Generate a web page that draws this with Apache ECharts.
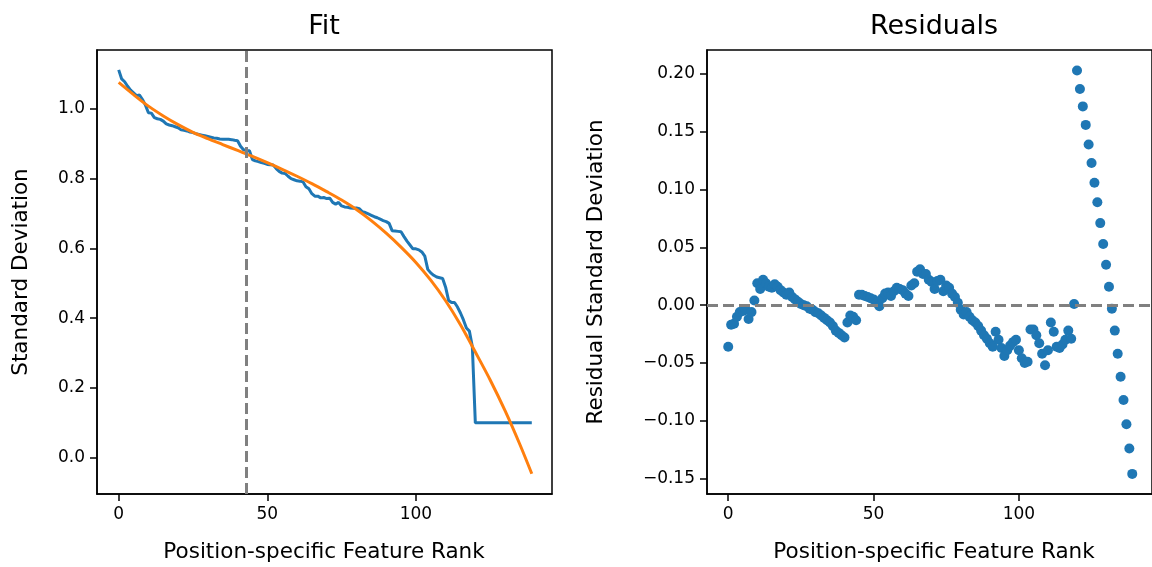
<!DOCTYPE html>
<html>
<head>
<meta charset="utf-8">
<script src="https://cdn.jsdelivr.net/npm/echarts@6/dist/echarts.min.js"></script>
<style>
  html, body { margin: 0; padding: 0; background: #fff; }
  #main { width: 1152px; height: 567px; }
</style>
</head>
<body>
<div id="main"></div>
<script>
// feature rank -> observed standard deviation (blue line)
var observed = [
  1.112, 1.086, 1.078, 1.065, 1.054, 1.046, 1.038, 1.040, 1.027, 1.011,
  0.989, 0.988, 0.975, 0.972, 0.970, 0.965, 0.957, 0.954, 0.952, 0.949,
  0.946, 0.940, 0.939, 0.937, 0.934, 0.932, 0.929, 0.927, 0.925, 0.923,
  0.921, 0.919, 0.917, 0.916, 0.914, 0.913, 0.913, 0.913, 0.912, 0.910,
  0.909, 0.893, 0.883, 0.881, 0.880, 0.855, 0.851, 0.849, 0.846, 0.844,
  0.841, 0.840, 0.839, 0.829, 0.821, 0.816, 0.815, 0.807, 0.800, 0.797,
  0.794, 0.793, 0.791, 0.777, 0.771, 0.757, 0.750, 0.750, 0.745, 0.746,
  0.743, 0.744, 0.732, 0.727, 0.732, 0.722, 0.719, 0.718, 0.716, 0.715,
  0.716, 0.714, 0.705, 0.703, 0.699, 0.695, 0.691, 0.688, 0.684, 0.680,
  0.677, 0.672, 0.651, 0.650, 0.649, 0.648, 0.634, 0.621, 0.610, 0.599,
  0.599, 0.596, 0.590, 0.578, 0.540, 0.530, 0.523, 0.518, 0.516, 0.514,
  0.489, 0.451, 0.445, 0.445, 0.432, 0.415, 0.395, 0.372, 0.363, 0.318,
  0.100, 0.100, 0.100, 0.100, 0.100, 0.100, 0.100, 0.100, 0.100, 0.100,
  0.100, 0.100, 0.100, 0.100, 0.100, 0.100, 0.100, 0.100, 0.100, 0.100
];

// fitted curve, sampled (orange line)
var fitRank = [0, 5, 10, 15, 20, 25, 30, 35, 40, 45, 50, 55, 60, 65, 70,
  75, 80, 85, 90, 95, 100, 105, 110, 115, 120, 125, 130, 135, 139];
var fitValue = [1.076, 1.041, 1.008, 0.980, 0.955, 0.933, 0.915, 0.898, 0.881,
  0.864, 0.846, 0.827, 0.807, 0.786, 0.763, 0.739, 0.712, 0.680, 0.644, 0.604,
  0.560, 0.509, 0.450, 0.381, 0.303, 0.223, 0.135, 0.038, -0.046];

// residual standard deviation per rank (scatter)
var residual = [
  -0.036, -0.017, -0.016, -0.010, -0.006, -0.005, -0.004, -0.012, -0.006, 0.004,
  0.019, 0.014, 0.022, 0.019, 0.016, 0.015, 0.018, 0.016, 0.013, 0.011,
  0.009, 0.011, 0.007, 0.005, 0.003, 0.001, 0.000, -0.001, -0.003, -0.004,
  -0.006, -0.007, -0.009, -0.011, -0.013, -0.015, -0.018, -0.022, -0.024, -0.026,
  -0.028, -0.015, -0.009, -0.010, -0.013, 0.009, 0.009, 0.008, 0.007, 0.006,
  0.005, 0.002, -0.001, 0.006, 0.010, 0.011, 0.008, 0.012, 0.015, 0.014,
  0.013, 0.010, 0.008, 0.017, 0.019, 0.029, 0.031, 0.027, 0.027, 0.022,
  0.020, 0.014, 0.021, 0.022, 0.012, 0.017, 0.015, 0.010, 0.007, 0.002,
  -0.004, -0.008, -0.006, -0.010, -0.013, -0.015, -0.018, -0.022, -0.026, -0.029,
  -0.033, -0.036, -0.023, -0.030, -0.037, -0.044, -0.039, -0.035, -0.032, -0.030,
  -0.039, -0.046, -0.050, -0.049, -0.021, -0.021, -0.026, -0.033, -0.042, -0.052,
  -0.039, -0.015, -0.023, -0.036, -0.037, -0.034, -0.030, -0.022, -0.029, 0.001,
  0.203, 0.187, 0.172, 0.156, 0.139, 0.123, 0.106, 0.089, 0.071, 0.053,
  0.035, 0.016, -0.003, -0.022, -0.042, -0.062, -0.082, -0.103, -0.124, -0.146
];

var cutoffRank = 43;
var xTicks = [0, 50, 100];
var fitTicks = [0, 0.2, 0.4, 0.6, 0.8, 1.0];
var resTicks = [-0.15, -0.10, -0.05, 0, 0.05, 0.10, 0.15, 0.20];

var FONT = '"DejaVu Sans", sans-serif';
var tickFont = 17;
var labelFont = 21.5;
var titleFont = 27;

function fmtMinus(s) { return s.replace('-', '\u2212'); }

var axisLine = { show: true, onZero: false, lineStyle: { color: '#000', width: 1.5 } };

function xAxisCfg(idx) {
  return {
    type: 'value', gridIndex: idx, min: -7.3, max: 145.8,
    axisLine: axisLine,
    splitLine: { show: false },
    axisTick: { show: true, length: 7, lineStyle: { color: '#000', width: 1.5 }, customValues: xTicks },
    axisLabel: { color: '#000', fontSize: tickFont, fontFamily: FONT, margin: 12, customValues: xTicks,
      formatter: function (v) { return String(v); } }
  };
}

function yAxisCfg(idx, min, max, ticks, digits) {
  return {
    type: 'value', gridIndex: idx, min: min, max: max,
    axisLine: axisLine,
    splitLine: { show: false },
    axisTick: { show: true, length: 7, lineStyle: { color: '#000', width: 1.5 }, customValues: ticks },
    axisLabel: { color: '#000', fontSize: tickFont, fontFamily: FONT, margin: 12, customValues: ticks,
      formatter: function (v) { return fmtMinus(Number(v).toFixed(digits)); } }
  };
}

var myChart = echarts.init(document.getElementById('main'), null, { renderer: 'canvas' });

var option = {
  animation: false,
  backgroundColor: '#fff',
  grid: [
    { left: 97, top: 50, width: 455, height: 444, show: true, borderColor: '#000', borderWidth: 1.5, backgroundColor: 'transparent' },
    { left: 707, top: 50, width: 454, height: 444, show: true, borderColor: '#000', borderWidth: 1.5, backgroundColor: 'transparent' }
  ],
  xAxis: [xAxisCfg(0), xAxisCfg(1)],
  yAxis: [
    yAxisCfg(0, -0.104, 1.169, fitTicks, 1),
    yAxisCfg(1, -0.1634, 0.2208, resTicks, 2)
  ],
  series: [
    {
      type: 'line', xAxisIndex: 0, yAxisIndex: 0, z: 2,
      data: observed.map(function (v, i) { return [i, v]; }),
      showSymbol: false, symbol: 'none',
      lineStyle: { color: '#1f77b4', width: 3 }
    },
    {
      type: 'line', xAxisIndex: 0, yAxisIndex: 0, z: 3,
      data: fitRank.map(function (r, i) { return [r, fitValue[i]]; }),
      showSymbol: false, symbol: 'none', smooth: 0.3,
      lineStyle: { color: '#ff7f0e', width: 3 }
    },
    {
      type: 'line', xAxisIndex: 0, yAxisIndex: 0, z: 4, data: [],
      markLine: {
        silent: true, symbol: ['none', 'none'], label: { show: false },
        lineStyle: { color: '#808080', width: 3, type: [11, 5] },
        data: [{ xAxis: cutoffRank }]
      }
    },
    {
      type: 'line', xAxisIndex: 1, yAxisIndex: 1, z: 1, data: [],
      markLine: {
        silent: true, symbol: ['none', 'none'], label: { show: false },
        lineStyle: { color: '#808080', width: 3, type: [11, 5] },
        data: [{ yAxis: 0 }]
      }
    },
    {
      type: 'scatter', xAxisIndex: 1, yAxisIndex: 1, z: 2,
      data: residual.map(function (v, i) { return [i, v]; }),
      symbolSize: 10,
      itemStyle: { color: '#1f77b4', opacity: 1 }
    }
  ],
  graphic: [
    { type: 'text', x: 324, y: 27, style: { text: 'Fit', font: titleFont + 'px ' + FONT, fill: '#000', textAlign: 'center', textVerticalAlign: 'middle' } },
    { type: 'text', x: 934, y: 27, style: { text: 'Residuals', font: titleFont + 'px ' + FONT, fill: '#000', textAlign: 'center', textVerticalAlign: 'middle' } },
    { type: 'text', x: 324, y: 552, style: { text: 'Position-specific Feature Rank', font: labelFont + 'px ' + FONT, fill: '#000', textAlign: 'center', textVerticalAlign: 'middle' } },
    { type: 'text', x: 934, y: 552, style: { text: 'Position-specific Feature Rank', font: labelFont + 'px ' + FONT, fill: '#000', textAlign: 'center', textVerticalAlign: 'middle' } },
    { type: 'text', x: 21, y: 272, rotation: Math.PI / 2, style: { text: 'Standard Deviation', font: labelFont + 'px ' + FONT, fill: '#000', textAlign: 'center', textVerticalAlign: 'middle' } },
    { type: 'text', x: 596, y: 272, rotation: Math.PI / 2, style: { text: 'Residual Standard Deviation', font: labelFont + 'px ' + FONT, fill: '#000', textAlign: 'center', textVerticalAlign: 'middle' } }
  ]
};

myChart.setOption(option);
</script>
</body>
</html>
